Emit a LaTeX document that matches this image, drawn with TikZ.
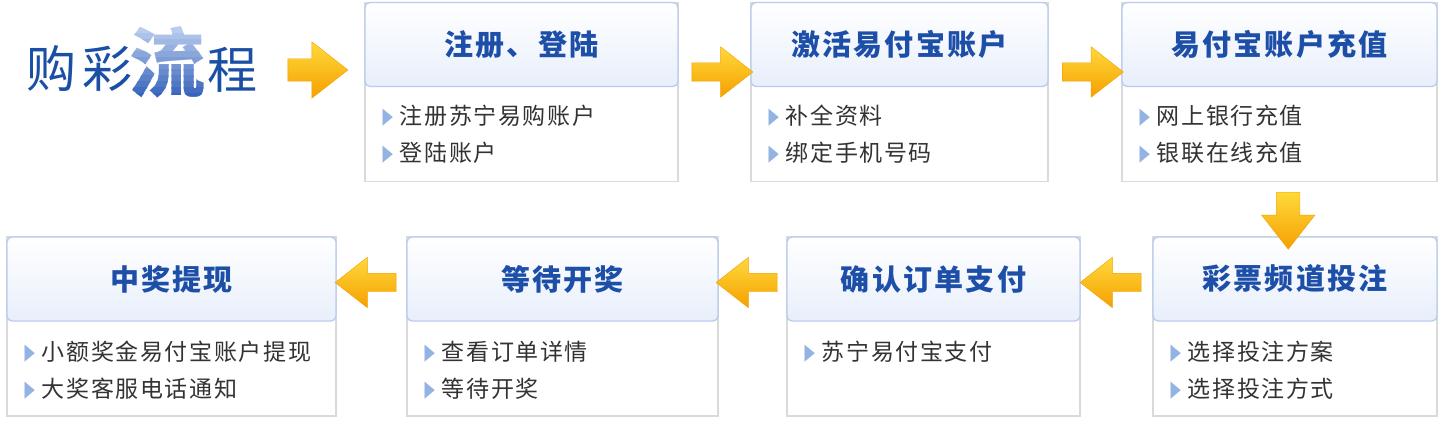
\documentclass[tikz,border=0pt]{standalone}
\usepackage{fontspec}
\setmainfont{Noto Sans CJK SC}
\newfontfamily\bulletfont{DejaVu Sans}
\usetikzlibrary{positioning,calc,shapes.arrows}

\definecolor{titleblue}{HTML}{1B4FA5}
\definecolor{liutop}{HTML}{C6D6F2}
\definecolor{liubot}{HTML}{2C5BB7}
\definecolor{headblue}{HTML}{1D4FA8}
\definecolor{headline}{HTML}{B9CCEF}
\definecolor{headfill}{HTML}{E8EFFB}
\definecolor{bodyline}{HTML}{DADADA}
\definecolor{bodytext}{HTML}{333333}
\definecolor{bulletblue}{HTML}{93B4E3}
\definecolor{arrowtop}{HTML}{FFD93C}
\definecolor{arrowbot}{HTML}{F5A000}

\newcommand{\bul}{\raisebox{1pt}{\color{bulletblue}\bulletfont\fontsize{30}{30}\selectfont\scalebox{0.45}[0.75]{▶}}\hspace{7pt}}

\tikzset{
    stepbox/.style={draw=bodyline, line width=1.3pt, fill=white, minimum height=179, inner sep=0},
    stephead/.style={draw=headline, line width=1.3pt, rounded corners=5pt, top color=white, bottom color=headfill,
        minimum height=84, inner sep=0, anchor=north, text=headblue,
        font=\fontsize{29}{29}\selectfont\bfseries\addfontfeature{LetterSpace=8}},
    steptext/.style={anchor=north west, align=left, inner sep=0, text=bodytext,
        font=\fontsize{23}{37}\selectfont\addfontfeature{LetterSpace=7}},
    flowarrow/.style={single arrow, single arrow head extend=16, single arrow tip angle=76,
        inner xsep=0, inner ysep=9, minimum height=61, top color=arrowtop, bottom color=arrowbot,
        draw=arrowbot, line width=0.4pt},
    liufont/.style={inner sep=0, font=\fontsize{76}{76}\selectfont\bfseries}
}

\begin{document}
\begin{tikzpicture}[x=1pt, y=-1pt]
    \fill[white] (0,0) rectangle (1445,425);
    \useasboundingbox (0,0) rectangle (1445,425);

    % title
    \node[inner sep=0, text=titleblue, font=\fontsize{50}{50}\selectfont\addfontfeature{LetterSpace=12}] (gou) at (79,69) {购彩};
    \node[liufont, text opacity=0] (liu) at (167,62) {流};
    % light-to-dark blue, strip by strip
    \foreach \i in {0,...,13} {
        \pgfmathtruncatemacro{\pct}{100-\i*100/13}
        \begin{scope}
            \clip (120,22+6*\i) rectangle (215,28.7+6*\i);
            \node[liufont, text=liutop!\pct!liubot] (liu\i) at (liu.center) {流};
        \end{scope}
    }
    \node[inner sep=0, text=titleblue, font=\fontsize{50}{50}\selectfont] (cheng) at (232,70) {程};

    % boxes, top row
    \node[stepbox, minimum width=313] (b1) at (521.5,92) {};
    \node[stepbox, minimum width=297] (b2) at (899.5,92) {};
    \node[stepbox, minimum width=315] (b3) at (1279.5,92) {};
    % boxes, bottom row
    \node[stepbox, minimum width=329] (b4) at (171.5,326.5) {};
    \node[stepbox, minimum width=311] (b5) at (562.5,326.5) {};
    \node[stepbox, minimum width=293] (b6) at (933.5,326.5) {};
    \node[stepbox, minimum width=284] (b7) at (1295,326.5) {};

    % headers
    \node[stephead, minimum width=313] (h1) at (b1.north) {注册、登陆};
    \node[stephead, minimum width=297] (h2) at (b2.north) {激活易付宝账户};
    \node[stephead, minimum width=315] (h3) at (b3.north) {易付宝账户充值};
    \node[stephead, minimum width=329] (h4) at (b4.north) {中奖提现};
    \node[stephead, minimum width=311] (h5) at (b5.north) {等待开奖};
    \node[stephead, minimum width=293] (h6) at (b6.north) {确认订单支付};
    \node[stephead, minimum width=284] (h7) at (b7.north) {彩票频道投注};

    % items
    \node[steptext] (t1) at ([xshift=18, yshift=-18]h1.south west) {\bul 注册苏宁易购账户\\\bul 登陆账户};
    \node[steptext] (t2) at ([xshift=18, yshift=-18]h2.south west) {\bul 补全资料\\\bul 绑定手机号码};
    \node[steptext] (t3) at ([xshift=18, yshift=-18]h3.south west) {\bul 网上银行充值\\\bul 银联在线充值};
    \node[steptext] (t4) at ([xshift=18, yshift=-19]h4.south west) {\bul 小额奖金易付宝账户提现\\\bul 大奖客服电话通知};
    \node[steptext] (t5) at ([xshift=18, yshift=-19]h5.south west) {\bul 查看订单详情\\\bul 等待开奖};
    \node[steptext] (t6) at ([xshift=18, yshift=-19]h6.south west) {\bul 苏宁易付宝支付};
    \node[steptext] (t7) at ([xshift=18, yshift=-19]h7.south west) {\bul 选择投注方案\\\bul 选择投注方式};

    % arrows between steps
    \node[flowarrow, minimum height=60, inner ysep=11, single arrow head extend=17] (a0) at ($(cheng.east)!.5!(b1.west |- cheng.east)$) {};
    \node[flowarrow] (a12) at ($(b1.east)!.5!(b2.west)+(2,-20)$) {};
    \node[flowarrow] (a23) at ($(b2.east)!.5!(b3.west)+(2,-20)$) {};
    \node[flowarrow, shape border rotate=270, inner xsep=11.5, inner ysep=0, minimum height=57, single arrow head extend=15] (a37) at ($(b3.south)!.5!(b7.north)+(1,4)$) {};
    \node[flowarrow, shape border rotate=180] (a76) at ($(b7.west)!.5!(b6.east)+(0,-44)$) {};
    \node[flowarrow, shape border rotate=180] (a65) at ($(b6.west)!.5!(b5.east)+(0,-44)$) {};
    \node[flowarrow, shape border rotate=180] (a54) at ($(b5.west)!.5!(b4.east)+(0,-44)$) {};
\end{tikzpicture}
\end{document}
